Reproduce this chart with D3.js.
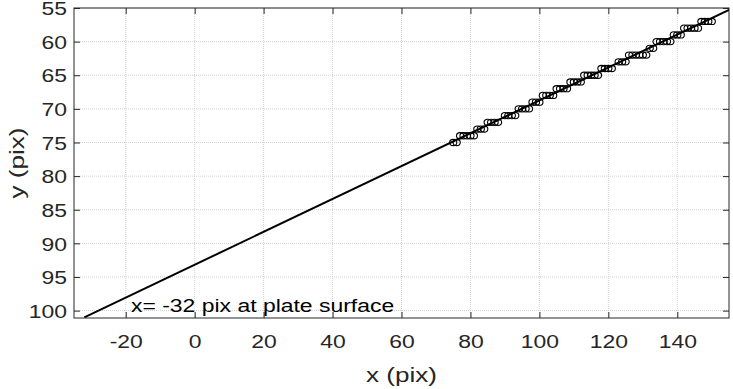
<!DOCTYPE html>
<html>
<head>
<meta charset="utf-8">
<title>plate edge</title>
<script src="https://d3js.org/d3.v7.min.js"></script>
<style>
  body { margin: 0; background: #fff; }
  text { font-family: "Liberation Sans", Arial, sans-serif; fill: #262626; }
</style>
</head>
<body>
<script>
// fitted line (x, y in pix)
var lineX = [-32, 155];
var lineY = [101, 55.3];

// detected edge points, one row per y value
var rowY = [75, 74, 73, 72, 71, 70, 69, 68, 67, 66, 65, 64, 63, 62, 61, 60, 59, 58, 57];
var rowX = [
  [75, 76],
  [77, 78, 79, 80, 81],
  [82, 83, 84],
  [85, 86, 87, 88],
  [90, 91, 92, 93],
  [94, 95, 96, 97],
  [98, 99, 100],
  [101, 102, 103, 104],
  [105, 106, 107, 108],
  [109, 110, 111, 112],
  [113, 114, 115, 116, 117],
  [118, 119, 120, 121],
  [123, 124, 125],
  [126, 127, 128, 129, 130, 131],
  [132, 133],
  [134, 135, 136, 137, 138],
  [139, 140, 141],
  [142, 143, 144, 145, 146],
  [147, 148, 149, 150]
];

var xTicks = [-20, 0, 20, 40, 60, 80, 100, 120, 140];
var yTicks = [55, 60, 65, 70, 75, 80, 85, 90, 95, 100];
var note = "x= -32 pix at plate surface";

var W = 733, H = 389;
var m = {left: 74, top: 8, right: 4, bottom: 71};
var SX = 1.24; // the figure's text is a bit wider than the font

var svg = d3.select("body").append("svg")
  .attr("width", W)
  .attr("height", H);

var x = d3.scaleLinear().domain([-35, 155]).range([m.left, W - m.right]);
var y = d3.scaleLinear().domain([55, 101.1]).range([m.top, H - m.bottom]);

var pw = W - m.right - m.left, ph = H - m.bottom - m.top;

// grid
var g = svg.append("g");
g.selectAll(".gx").data(xTicks).enter().append("line")
  .attr("x1", d => x(d)).attr("x2", d => x(d))
  .attr("y1", m.top).attr("y2", H - m.bottom)
  .attr("stroke", "#d2d2d2").attr("stroke-width", 1).attr("stroke-dasharray", "1,1");
g.selectAll(".gy").data(yTicks).enter().append("line")
  .attr("x1", m.left).attr("x2", W - m.right)
  .attr("y1", d => y(d)).attr("y2", d => y(d))
  .attr("stroke", "#d2d2d2").attr("stroke-width", 1).attr("stroke-dasharray", "1,1");

// axes (ticks point inward, box on)
var fs = "18.5px";
var fmt = d => String(d); // plain hyphen minus like the figure
var ax = svg.append("g").attr("transform", "translate(0," + (H - m.bottom) + ")")
  .call(d3.axisBottom(x).tickValues(xTicks).tickFormat(fmt).tickSizeInner(-6).tickSizeOuter(0).tickPadding(17));
var axT = svg.append("g").attr("transform", "translate(0," + m.top + ")")
  .call(d3.axisTop(x).tickValues(xTicks).tickSizeInner(-6).tickSizeOuter(0).tickFormat(""));
var ay = svg.append("g").attr("transform", "translate(" + m.left + ",0)")
  .call(d3.axisLeft(y).tickValues(yTicks).tickFormat(fmt).tickSizeInner(-6).tickSizeOuter(0).tickPadding(7));
var ayR = svg.append("g").attr("transform", "translate(" + (W - m.right) + ",0)")
  .call(d3.axisRight(y).tickValues(yTicks).tickSizeInner(-6).tickSizeOuter(0).tickFormat(""));

[ax, axT, ay, ayR].forEach(function (a) {
  a.select(".domain").remove();
  a.selectAll(".tick line").attr("stroke", "#262626");
  a.selectAll("text").style("font-size", fs).attr("fill", "#262626")
    .each(function () {
      var t = d3.select(this);
      t.attr("x", (+t.attr("x") || 0) / SX).attr("transform", "scale(" + SX + ",1)");
    });
});
ay.selectAll("text").attr("dy", "0.36em");

svg.append("rect")
  .attr("x", m.left).attr("y", m.top)
  .attr("width", pw).attr("height", ph)
  .attr("fill", "none").attr("stroke", "#262626").attr("stroke-width", 1);

// data
svg.append("clipPath").attr("id", "clip").append("rect")
  .attr("x", m.left).attr("y", m.top).attr("width", pw).attr("height", ph);

var pts = [];
rowY.forEach(function (yy, i) {
  rowX[i].forEach(function (xx) { pts.push([xx, yy]); });
});

svg.append("g").selectAll("ellipse").data(pts).enter().append("ellipse")
  .attr("cx", d => x(d[0])).attr("cy", d => y(d[1]))
  .attr("rx", 3.6).attr("ry", 3.1)
  .attr("fill", "none").attr("stroke", "#000").attr("stroke-width", 1.1);

svg.append("path")
  .datum(lineX.map((d, i) => [d, lineY[i]]))
  .attr("clip-path", "url(#clip)")
  .attr("d", d3.line().x(d => x(d[0])).y(d => y(d[1])))
  .attr("fill", "none").attr("stroke", "#000").attr("stroke-width", 2);

// labels
svg.append("text")
  .attr("transform", "translate(131,312) scale(" + SX + ",1)")
  .style("font-size", "18.5px")
  .style("fill", "#000")
  .text(note);

svg.append("text")
  .attr("transform", "translate(" + (m.left + pw / 2) + ",382) scale(" + SX + ",1)")
  .attr("text-anchor", "middle")
  .style("font-size", "21px")
  .text("x (pix)");

svg.append("text")
  .attr("transform", "translate(24," + (m.top + ph / 2) + ") rotate(-90) scale(" + SX + ",1)")
  .attr("text-anchor", "middle")
  .style("font-size", "21px")
  .text("y (pix)");
</script>
</body>
</html>
